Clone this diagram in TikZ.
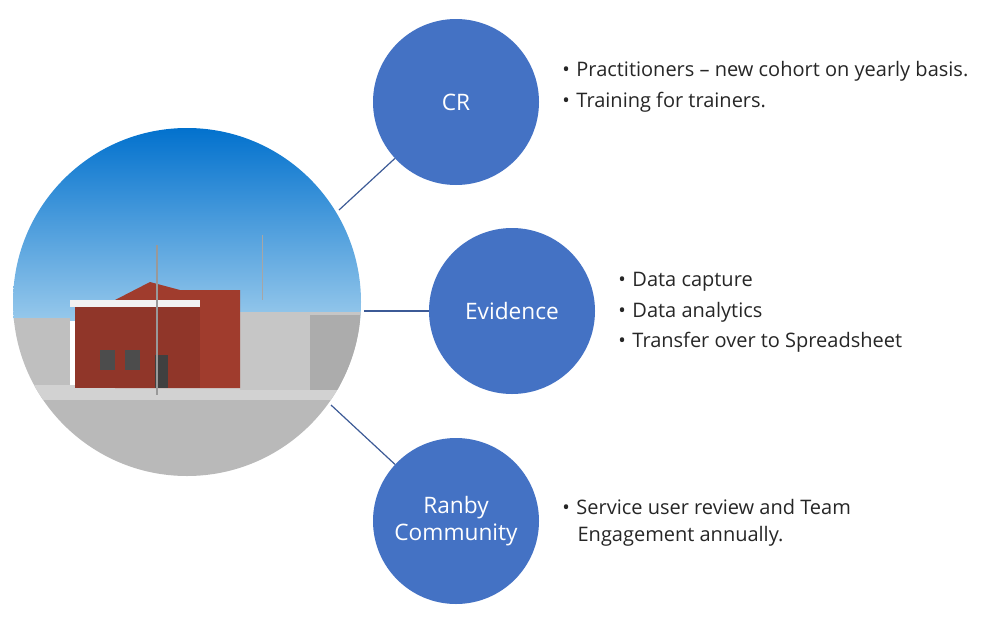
\documentclass[tikz,border=0pt]{standalone}
\usepackage{fontspec}
\setmainfont{Open Sans}
\begin{document}
\begin{tikzpicture}[x=0.75pt,y=-0.75pt,
  bub/.style={circle,fill=bubble,minimum size=124.5pt,inner sep=0pt,text=white,font=\fontsize{17}{20}\selectfont,align=center},
  conn/.style={draw=linec,line width=0.9pt},
  txt/.style={anchor=north west,font=\fontsize{15}{20}\selectfont,text=black!85,align=left,inner sep=0pt}]
\definecolor{bubble}{RGB}{68,114,196}
\definecolor{linec}{RGB}{60,90,150}
\definecolor{skytop}{RGB}{0,112,205}
\definecolor{skybot}{RGB}{150,200,235}
\definecolor{brick}{RGB}{160,60,45}
\useasboundingbox (0,0) rectangle (985,618);
% photo
\begin{scope}
\clip (187,302) circle[radius=174];
\shade[top color=skytop,bottom color=skybot] (10,125) rectangle (365,320);
\fill[gray!55] (10,385) rectangle (365,480);
\fill[gray!35] (10,385) rectangle (365,400);
\fill[gray!50!white] (10,318) rectangle (70,385);
\fill[gray!45!white] (240,312) rectangle (365,390);
\fill[gray!65] (310,315) rectangle (360,390);
\fill[brick] (115,300) -- (150,282) -- (180,290) -- (240,290) -- (240,388) -- (115,388) -- cycle;
\fill[brick!90!black] (75,305) rectangle (200,388);
\fill[white!90!gray] (70,300) rectangle (200,307);
\fill[black!70] (100,350) rectangle (115,370);
\fill[black!70] (125,350) rectangle (140,370);
\fill[black!75] (155,355) rectangle (168,388);
\draw[gray!80,line width=1pt] (157,245) -- (157,395);
\draw[gray!70,line width=0.6pt] (262,235) -- (262,300);
\end{scope}
% bubbles
\node[bub] (cr) at (456,102) {CR};
\node[bub] (ev) at (512,311) {Evidence};
\node[bub] (rc) at (456,521) {Ranby\\Community};
\coordinate (p1) at (339,210);
\coordinate (p2) at (364,311);
\coordinate (p3) at (331,405);
\draw[conn] (p1) -- (cr);
\draw[conn] (p2) -- (ev);
\draw[conn] (p3) -- (rc);
\node[txt] (t1) at (562,61) {•\hspace{5pt}Practitioners – new cohort on yearly basis.\\[3pt]•\hspace{5pt}Training for trainers.};
\node[txt] (t2) at (618,272) {•\hspace{5pt}Data capture\\[3pt]•\hspace{5pt}Data analytics\\[3pt]•\hspace{5pt}Transfer over to Spreadsheet};
\node[txt] (t3) at (562,499) {•\hspace{5pt}Service user review and Team\\\hspace*{11.5pt}Engagement annually.};
\end{tikzpicture}
\end{document}
